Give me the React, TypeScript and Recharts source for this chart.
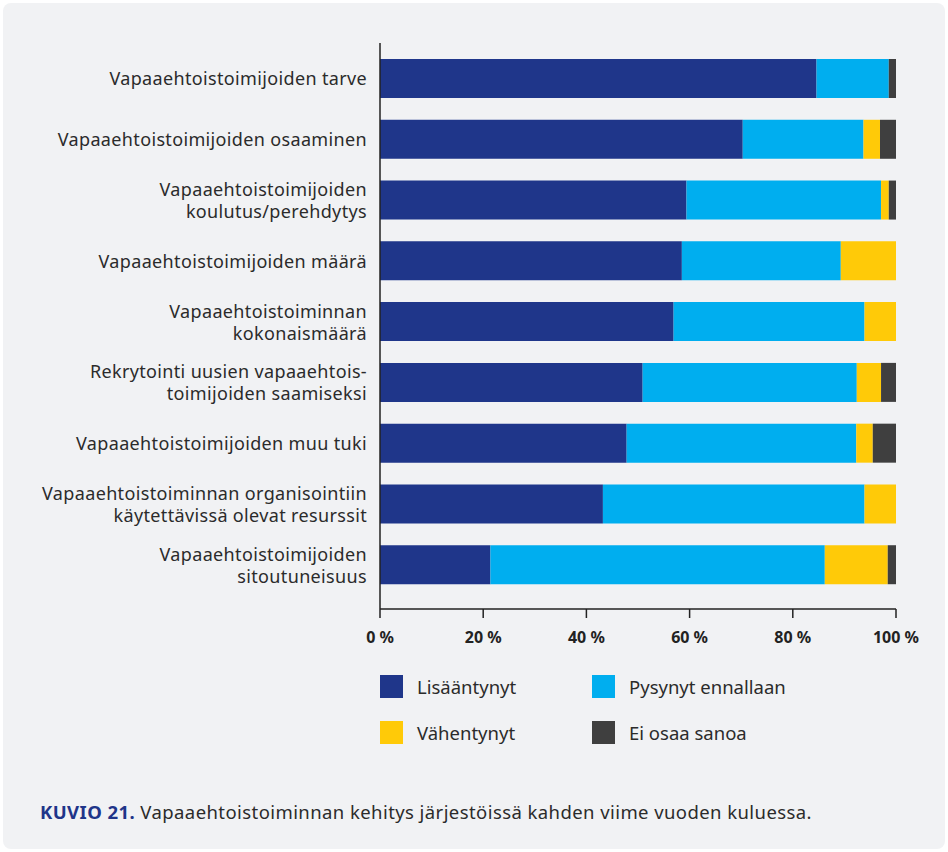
import React from "react";
import { BarChart, Bar, XAxis, YAxis } from "recharts";

const categories: string[][] = [
  ["Vapaaehtoistoimijoiden tarve"],
  ["Vapaaehtoistoimijoiden osaaminen"],
  ["Vapaaehtoistoimijoiden", "koulutus/perehdytys"],
  ["Vapaaehtoistoimijoiden määrä"],
  ["Vapaaehtoistoiminnan", "kokonaismäärä"],
  ["Rekrytointi uusien vapaaehtois-", "toimijoiden saamiseksi"],
  ["Vapaaehtoistoimijoiden muu tuki"],
  ["Vapaaehtoistoiminnan organisointiin", "käytettävissä olevat resurssit"],
  ["Vapaaehtoistoimijoiden", "sitoutuneisuus"],
];

const lisaantynyt = [84.6, 70.3, 59.4, 58.5, 56.9, 50.9, 47.8, 43.2, 21.4];
const pysynyt = [14.0, 23.4, 37.7, 30.8, 37.0, 41.5, 44.5, 50.7, 64.8];
const vahentynyt = [0, 3.2, 1.5, 10.7, 6.1, 4.7, 3.2, 6.1, 12.2];
const eiOsaa = [1.4, 3.1, 1.4, 0, 0, 2.9, 4.5, 0, 1.6];

const xTicks = [0, 20, 40, 60, 80, 100];

const seriesNames = ["Lisääntynyt", "Pysynyt ennallaan", "Vähentynyt", "Ei osaa sanoa"];
const colors = ["#1f368a", "#00aeef", "#ffca08", "#3f3f3f"];

const data = categories.map((c, i) => ({
  name: c.join(" "),
  a: lisaantynyt[i],
  b: pysynyt[i],
  c: vahentynyt[i],
  d: eiOsaa[i],
}));

const FONT = "'Noto Sans', sans-serif";

const YTick = (props: any) => {
  const { x, y, payload, index } = props;
  const lines = categories[index] ?? [payload.value];
  const lh = 22;
  const start = y - ((lines.length - 1) * lh) / 2;
  return (
    <text
      x={x}
      y={start}
      textAnchor="end"
      fill="#2b2b2b"
      fontSize={18}
      letterSpacing={0.35}
      fontFamily={FONT}
      dominantBaseline="central"
    >
      {lines.map((l: string, k: number) => (
        <tspan key={k} x={x} y={start + k * lh} dominantBaseline="central">
          {l}
        </tspan>
      ))}
    </text>
  );
};

const XTick = (props: any) => {
  const { x, y, payload } = props;
  return (
    <text
      x={x}
      y={y + 17}
      textAnchor="middle"
      fill="#222"
      fontSize={16}
      fontWeight={700}
      fontFamily={FONT}
      dominantBaseline="central"
    >
      {payload.value} %
    </text>
  );
};

export default function App() {
  const keys = ["a", "b", "c", "d"];
  return (
    <div
      style={{
        position: "absolute",
        left: 0,
        top: 0,
        width: 948,
        height: 852,
        background: "#ffffff",
        fontFamily: FONT,
      }}
    >
      <div
        style={{
          position: "absolute",
          left: 3,
          top: 3,
          width: 942,
          height: 846,
          background: "#f1f2f4",
          borderRadius: 8,
        }}
      />
      <div style={{ position: "absolute", left: 0, top: 0 }}>
        <BarChart
          width={948}
          height={660}
          data={data}
          layout="vertical"
          margin={{ top: 43, right: 52, left: 0, bottom: 11 }}
        >
          <XAxis
            type="number"
            domain={[0, 100]}
            ticks={xTicks}
            axisLine={{ stroke: "#222", strokeWidth: 1.5 }}
            tickLine={{ stroke: "#222", strokeWidth: 1.5 }}
            tickSize={9}
            tick={<XTick />}
            height={40}
            allowDataOverflow
          />
          <YAxis
            type="category"
            dataKey="name"
            width={380}
            axisLine={{ stroke: "#222", strokeWidth: 1.5 }}
            tickLine={false}
            tickMargin={7}
            tick={<YTick />}
            padding={{ top: 5, bottom: 14 }}
            interval={0}
          />
          {keys.map((k, i) => (
            <Bar
              key={k}
              dataKey={k}
              name={seriesNames[i]}
              stackId="s"
              fill={colors[i]}
              barSize={39}
              isAnimationActive={false}
            />
          ))}
        </BarChart>
      </div>
      {seriesNames.map((n, i) => {
        const col = i % 2;
        const row = Math.floor(i / 2);
        const left = col === 0 ? 380 : 592;
        const top = row === 0 ? 675 : 721;
        return (
          <div key={n} style={{ position: "absolute", left, top, display: "flex", alignItems: "center" }}>
            <div style={{ width: 23, height: 23, background: colors[i] }} />
            <div style={{ marginLeft: 14, fontSize: 18.5, color: "#2b2b2b", lineHeight: "23px" }}>{n}</div>
          </div>
        );
      })}
      <div
        style={{
          position: "absolute",
          left: 40,
          top: 800,
          fontSize: 18.5,
          letterSpacing: 0.42,
          color: "#2b2b2b",
          lineHeight: "24px",
          whiteSpace: "nowrap",
        }}
      >
        <span style={{ color: "#1f3589", fontWeight: 700 }}>KUVIO 21.</span> Vapaaehtoistoiminnan kehitys järjestöissä kahden viime vuoden kuluessa.
      </div>
    </div>
  );
}
